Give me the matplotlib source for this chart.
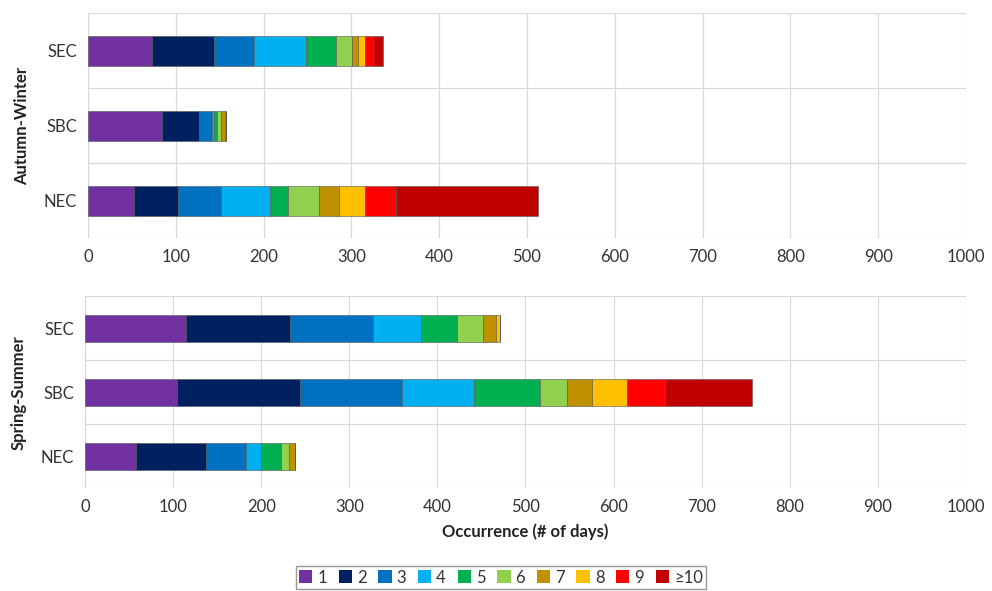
import numpy as np
import matplotlib
matplotlib.use("Agg")
import matplotlib.pyplot as plt
from matplotlib.patches import Patch

plt.rcParams["font.family"] = ["Lato", "DejaVu Sans"]

CLASSES = ["1", "2", "3", "4", "5", "6", "7", "8", "9", "≥10"]
COLORS = ["#7030A0", "#002060", "#0070C0", "#00B0F0", "#00B050",
          "#92D050", "#BF9000", "#FFC000", "#FF0000", "#C00000"]
SITES = ["SEC", "SBC", "NEC"]

# days per class, one list per site
aw_sec = [73, 70, 46, 59, 35, 18, 7, 7, 10, 11]
aw_sbc = [84, 43, 14, 3, 3, 4, 5, 1, 0, 0]
aw_nec = [52, 51, 48, 56, 21, 35, 23, 29, 36, 162]

ss_sec = [115, 118, 94, 54, 41, 30, 14, 5, 0, 0]
ss_sbc = [104, 140, 116, 82, 75, 30, 29, 39, 43, 99]
ss_nec = [58, 79, 46, 17, 22, 10, 6, 0, 0, 0]

X_TICKS = list(range(0, 1001, 100))


def stacked(ax, rows, title, height):
    data = np.array(rows, dtype=float)
    y = np.arange(len(rows))
    left = np.zeros(len(rows))
    for k in range(data.shape[1]):
        ax.barh(y, data[:, k], left=left, height=height, color=COLORS[k],
                edgecolor="#555555", linewidth=0.4, zorder=3)
        left += data[:, k]
    ax.set_xlim(0, 1000)
    ax.set_ylim(len(rows) - 0.5, -0.5)
    ax.set_yticks(y)
    ax.set_yticklabels(SITES, fontsize=12, color="#333333")
    ax.set_xticks(X_TICKS)
    ax.set_xticklabels([str(t) for t in X_TICKS], fontsize=12, color="#333333")
    ax.xaxis.grid(True, color="#d9d9d9", linewidth=0.9, zorder=0)
    # category separators
    for b in np.arange(-0.5, len(rows), 1.0):
        ax.axhline(b, color="#d9d9d9", linewidth=0.9, zorder=0)
    for s in ax.spines.values():
        s.set_visible(False)
    ax.axvline(0, color="#d9d9d9", linewidth=0.9, zorder=1)
    ax.tick_params(length=0, pad=8)
    ax.set_ylabel(title, fontsize=12, fontweight="bold", color="#222222", labelpad=10)


fig = plt.figure(figsize=(9.92, 5.91), dpi=100)
ax1 = fig.add_axes([0.0887, 0.597, 0.885, 0.381])
ax2 = fig.add_axes([0.0857, 0.174, 0.888, 0.325])

stacked(ax1, [aw_sec, aw_sbc, aw_nec], "Autumn-Winter", 0.4)
stacked(ax2, [ss_sec, ss_sbc, ss_nec], "Spring-Summer", 0.42)
ax2.set_xlabel("Occurrence (# of days)", fontsize=12, fontweight="bold",
               color="#222222", labelpad=6)

handles = [Patch(facecolor=c, edgecolor="none") for c in COLORS]
leg = fig.legend(handles, CLASSES, loc="upper center", bbox_to_anchor=(0.505, 0.056),
                 ncol=10, frameon=True, fancybox=False, fontsize=12,
                 handlelength=0.8, handleheight=0.8, handletextpad=0.3,
                 columnspacing=0.7, borderpad=0.2)
leg.get_frame().set_edgecolor("#7f7f7f")
leg.get_frame().set_linewidth(1.0)
for t in leg.get_texts():
    t.set_color("#333333")

fig.savefig("out.png", dpi=100)
